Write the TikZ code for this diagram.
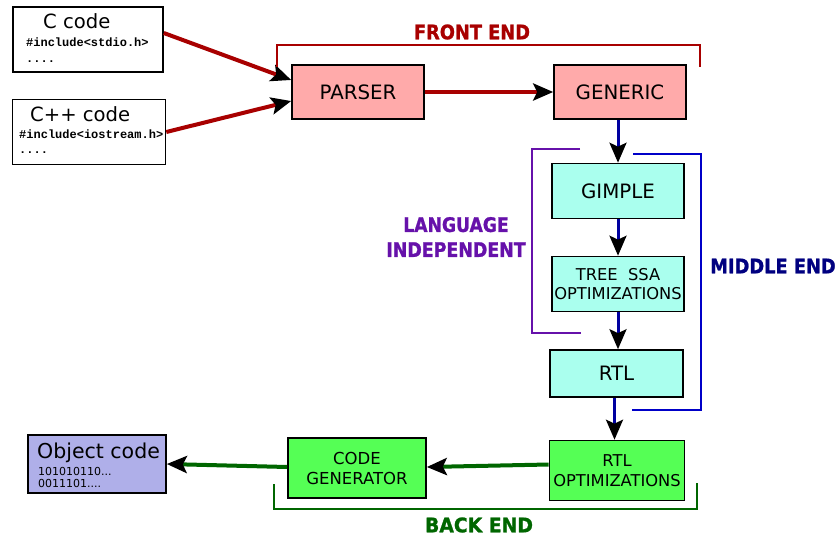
\documentclass[tikz,border=0pt]{standalone}
\usepackage{graphicx}
\usepackage{fontspec}
\setmainfont{DejaVu Sans}
\newfontfamily\codefont{Liberation Mono}
\newfontfamily\stagefont[BoldFeatures={FakeBold=1.3}]{DejaVu Sans}
\usetikzlibrary{arrows.meta}
\definecolor{frontfill}{HTML}{FFAAAA}
\definecolor{middlefill}{HTML}{AAFFEE}
\definecolor{backfill}{HTML}{55FF55}
\definecolor{objfill}{HTML}{AFAFE9}
\definecolor{frontred}{HTML}{A80000}
\definecolor{middleblue}{HTML}{0000A0}
\definecolor{backgreen}{HTML}{006600}
\definecolor{langpurple}{HTML}{6611AA}
\definecolor{bracketblue}{HTML}{0000C8}
\definecolor{middlenavy}{HTML}{000080}
\newcommand{\squeeze}[2]{\scalebox{#1}[1]{#2}}
\newcommand{\stagesize}{\stagefont\bfseries\fontsize{20}{25}\selectfont}

\begin{document}
\begin{tikzpicture}[x=1pt,y=-1pt,
    box/.style={draw=black,line width=1.6pt,minimum width=132pt,minimum height=54pt,
        inner sep=0pt,align=center,font=\fontsize{19.8}{23}\selectfont},
    frontbox/.style={box,fill=frontfill},
    middlebox/.style={box,fill=middlefill},
    backbox/.style={box,fill=backfill,font=\fontsize{16.5}{20}\selectfont},
    srcbox/.style={box,fill=white},
    txt/.style={inner sep=0pt,anchor=base west},
    tip/.style={-{Stealth[length=20pt,width=17pt,inset=4pt,color=black]}},
    frontarrow/.style={tip,draw=frontred,line width=4pt},
    middlearrow/.style={tip,draw=middleblue,line width=3pt},
    backarrow/.style={tip,draw=backgreen,line width=4pt},
    stagelabel/.style={inner sep=0pt,align=center,font=\stagesize}]

    \useasboundingbox (0,0) rectangle (838,536);

    % Source files
    \node[srcbox,minimum width=150pt,minimum height=65pt] (csrc) at (88,39.5) {};
    \node[txt,font=\fontsize{19.6}{23}\selectfont] (ctitle) at (43,28) {C code};
    \node[txt,font=\codefont\bfseries\fontsize{12}{12}\selectfont] (cinc) at (26,46) {\#include<stdio.h>};
    \node[txt,font=\codefont\bfseries\fontsize{12}{12}\selectfont] (cdots) at (26,62) {....};

    \node[srcbox,minimum width=153pt,minimum height=65pt] (cppsrc) at (89,132) {};
    \node[txt,font=\fontsize{19.6}{23}\selectfont] (cpptitle) at (30,121) {C++ code};
    \node[txt,font=\codefont\bfseries\fontsize{12}{12}\selectfont] (cppinc) at (19,138) {\#include<iostream.h>};
    \node[txt,font=\codefont\bfseries\fontsize{12}{12}\selectfont] (cppdots) at (19,153) {....};

    % Front end
    \node[frontbox] (parser) at (358,92) {PARSER};
    \node[frontbox] (generic) at (620,92) {GENERIC};

    % Middle end
    \node[middlebox,minimum height=55pt] (gimple) at (618,191) {GIMPLE};
    \node[middlebox,minimum height=55pt,font=\fontsize{16.3}{19}\selectfont] (treessa) at (618,284) {TREE\ \ SSA\\OPTIMIZATIONS};
    \node[middlebox,minimum width=133pt,minimum height=47pt] (rtl) at (616.5,373.5) {RTL};

    % Back end
    \node[backbox,minimum width=135pt,minimum height=60pt,font=\fontsize{16.3}{20}\selectfont] (rtlopt) at (617,470.5) {RTL\\OPTIMIZATIONS};
    \node[backbox,minimum width=138pt,minimum height=60pt] (codegen) at (357,468) {CODE\\GENERATOR};

    % Object code
    \node[box,fill=objfill,minimum width=138pt,minimum height=58pt] (objcode) at (97,464) {};
    \node[txt,font=\fontsize{20.5}{23}\selectfont] (objtitle) at (37,458) {Object code};
    \node[txt,font=\fontsize{11}{12}\selectfont] (objbits1) at (38,475) {101010110...};
    \node[txt,font=\fontsize{11}{12}\selectfont] (objbits2) at (38,487) {0011101....};

    % Arrows
    \draw[frontarrow] ([yshift=6.5pt]csrc.east) -- ([yshift=12pt]parser.west);
    \draw[frontarrow] (cppsrc.east) -- ([yshift=-9pt]parser.west);
    \draw[frontarrow] (parser) -- (generic);
    \draw[middlearrow] (gimple.north |- generic.south) -- (gimple.north);
    \draw[middlearrow] (gimple.south) -- (treessa.north);
    \draw[middlearrow] (treessa.south) -- (treessa.south |- rtl.north);
    \draw[middlearrow] ([xshift=-2pt]rtl.south) -- ([xshift=-2pt]rtl.south |- rtlopt.north);
    \draw[backarrow] ([yshift=6pt]rtlopt.west) -- ([yshift=1pt]codegen.east);
    \draw[backarrow] ([yshift=1pt]codegen.west) -- (objcode.east);

    % Brackets and stage labels
    \draw[frontred,line width=1.5pt] (277,67) -- (277,45) -- (700,45) -- (700,67);
    \node[stagelabel,text=frontred] (frontlbl) at (472,32) {\squeeze{0.89}{FRONT END}};

    \draw[langpurple,line width=1.5pt] (580,149) -- (532,149) -- (532,333) -- (581,333);
    \node[stagelabel,text=langpurple] (langlbl) at (456,237) {\squeeze{0.86}{LANGUAGE}\\\squeeze{0.87}{INDEPENDENT}};

    \draw[bracketblue,line width=1.5pt] (633,154) -- (701,154) -- (701,410) -- (632,410);
    \node[stagelabel,text=middlenavy] (middlelbl) at (773,266) {\squeeze{0.89}{MIDDLE END}};

    \draw[backgreen,line width=1.5pt] (274,484) -- (274,509) -- (697,509) -- (697,483);
    \node[stagelabel,text=backgreen] (backlbl) at (479,525) {\squeeze{0.94}{BACK END}};
\end{tikzpicture}
\end{document}
